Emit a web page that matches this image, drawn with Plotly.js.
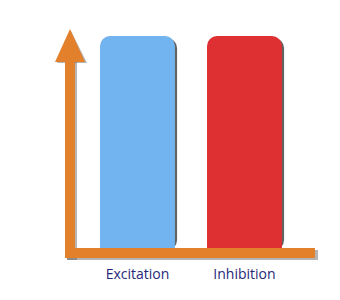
<!DOCTYPE html>
<html>
<head>
<meta charset="utf-8">
<script src="https://cdn.plot.ly/plotly-3.0.1.min.js"></script>
<style>html,body{margin:0;padding:0;background:#fff;}#chart{width:340px;height:300px;}</style>
</head>
<body>
<div id="chart"></div>
<script>
const categories = ["Excitation", "Inhibition"];
const values = [10, 10];
const barColors = ["#72b4f0", "#de2f32"];

const L = 63, R = 315, T = 30, B = 258;
const W = 340, H = 300;
const px = x => (x - L) / (R - L);
const py = y => (B - y) / (B - T);
const orange = "#e3802c";

function rect(x0, y0, x1, y1, color) {
  return {type: "rect", xref: "paper", yref: "paper", layer: "above",
    x0: px(x0), x1: px(x1), y0: py(y1), y1: py(y0),
    fillcolor: color, line: {width: 0}};
}
function tri(pts, color) {
  let d = "M" + pts.map(p => px(p[0]) + "," + py(p[1])).join(" L") + " Z";
  return {type: "path", xref: "paper", yref: "paper", layer: "above", path: d,
    fillcolor: color, line: {width: 0}};
}
const shadow = "rgba(90,90,90,0.45)";
const shapes = [
  rect(67, 62, 77, 260, shadow),
  rect(67, 250, 318, 260, shadow),
  tri([[57, 63], [71, 31], [87, 63]], shadow),
  rect(65, 60, 75, 258, orange),
  rect(65, 248, 315, 258, orange),
  tri([[55, 62], [70, 29], [85, 62]], orange)
];

const shadowTrace = {
  type: "bar", x: categories, y: values, base: -0.1,
  offset: -0.33, width: 0.7,
  marker: {color: "rgba(60,60,60,0.8)", cornerradius: 10, line: {width: 0}},
  hoverinfo: "skip", showlegend: false
};
const mainTrace = {
  type: "bar", x: categories, y: values,
  offset: -0.35, width: 0.7,
  marker: {color: barColors, cornerradius: 10, line: {width: 0}},
  showlegend: false
};

const layout = {
  width: W, height: H,
  margin: {l: L, r: W - R, t: T, b: H - B},
  paper_bgcolor: "#fff", plot_bgcolor: "#fff",
  barmode: "overlay",
  xaxis: {type: "category", range: [-0.696, 1.659], showgrid: false, zeroline: false,
    showline: false, ticks: "", ticklabelstandoff: 6,
    tickfont: {family: "Open Sans", size: 14, color: "#25287a"}},
  yaxis: {range: [-0.472, 10.283], showgrid: false, zeroline: false, showline: false,
    showticklabels: false, ticks: ""},
  shapes: shapes
};
Plotly.newPlot("chart", [shadowTrace, mainTrace], layout, {displayModeBar: false, staticPlot: true});
</script>
</body>
</html>
